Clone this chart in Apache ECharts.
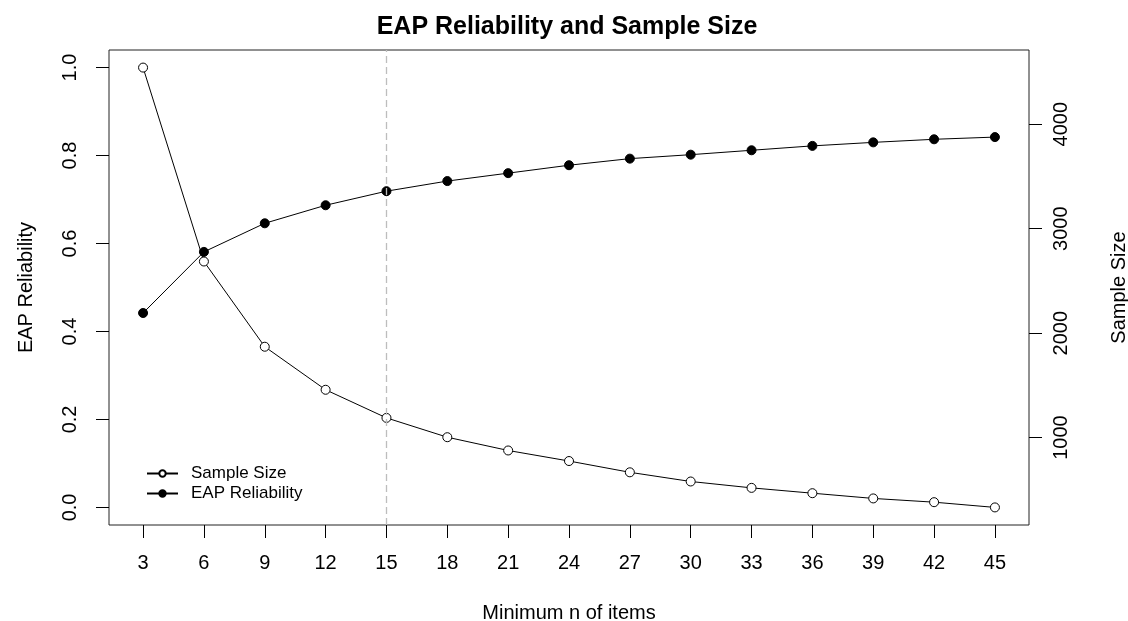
<!DOCTYPE html>
<html>
<head>
<meta charset="utf-8">
<title>EAP Reliability and Sample Size</title>
<script src="https://cdn.jsdelivr.net/npm/echarts@6/dist/echarts.min.js"></script>
<style>
  html, body { margin: 0; padding: 0; background: #fff; }
  #chart { width: 1128px; height: 621px; }
</style>
</head>
<body>
<div id="chart"></div>
<script>
// Minimum number of items per condition
const minItems = [ 3, 6, 9, 12, 15, 18, 21, 24, 27, 30, 33, 36, 39, 42, 45 ];
// Sample size (right axis)
const sampleSize = [ 4542, 2686, 1870, 1458, 1189, 1004, 877, 776, 668, 580, 519, 468, 418, 382, 332 ];
// EAP reliability (left axis)
const eapReliability = [ 0.442, 0.581, 0.646, 0.687, 0.719, 0.742, 0.760, 0.778, 0.793, 0.802, 0.812, 0.822, 0.830, 0.837, 0.842 ];
const leftTicks = [ 0, 0.2, 0.4, 0.6, 0.8, 1.0 ];
const rightTicks = [ 1000, 2000, 3000, 4000 ];
const cutoff = 15;

const FONT = 'Liberation Sans, Arial, sans-serif';

// R style padding: 4% on each side of the data range
function pad( lo, hi ) {
  const d = ( hi - lo ) * 0.04;
  return [ lo - d, hi + d ];
}

const xRange = pad( Math.min( ...minItems ), Math.max( ...minItems ) );
const leftRange = pad( 0, 1 );
const rightRange = pad( Math.min( ...sampleSize ), Math.max( ...sampleSize ) );

const chart = echarts.init( document.getElementById( 'chart' ), null, { renderer: 'canvas' } );

const tickStyle = { show: true, inside: false, length: 13, lineStyle: { color: '#000', width: 1 } };
const labelFont = { fontSize: 20, color: '#000', fontFamily: FONT };

chart.setOption( {
  animation: false,
  backgroundColor: '#fff',
  textStyle: { fontFamily: FONT, color: '#000' },
  title: {
    text: 'EAP Reliability and Sample Size',
    left: 562,
    top: 10,
    textAlign: 'center',
    textStyle: { fontFamily: FONT, fontSize: 25, fontWeight: 'bold', color: '#000' }
  },
  legend: {
    orient: 'vertical',
    left: 146,
    top: 465,
    padding: 0,
    itemWidth: 31,
    itemHeight: 8,
    itemGap: 3,
    textStyle: { fontFamily: FONT, fontSize: 17, color: '#000', padding: [ 0, 0, 0, 8 ] },
    data: [ 'Sample Size', 'EAP Reliability' ]
  },
  grid: {
    left: 109, right: 99, top: 50, bottom: 96,
    outerBoundsMode: 'none',
    containLabel: false,
    show: true, borderColor: '#222', borderWidth: 1, backgroundColor: 'transparent'
  },
  xAxis: {
    type: 'value',
    position: 'bottom',
    min: xRange[0],
    max: xRange[1],
    name: 'Minimum n of items',
    nameLocation: 'middle',
    nameGap: 78,
    nameTextStyle: labelFont,
    axisLine: { show: false, onZero: false },
    splitLine: { show: false },
    axisTick: Object.assign( { customValues: minItems }, tickStyle ),
    axisLabel: Object.assign( { customValues: minItems, margin: 28 }, labelFont )
  },
  yAxis: [
    {
      type: 'value',
      position: 'left',
      min: leftRange[0],
      max: leftRange[1],
      name: 'EAP Reliability',
      nameLocation: 'middle',
      nameGap: 73,
      nameRotate: 90,
      nameTextStyle: labelFont,
      axisLine: { show: false, onZero: false },
      splitLine: { show: false },
      axisTick: Object.assign( { customValues: leftTicks }, tickStyle ),
      axisLabel: Object.assign( {
        customValues: leftTicks, rotate: 90, margin: 29,
        formatter: ( v ) => v.toFixed( 1 )
      }, labelFont )
    },
    {
      type: 'value',
      position: 'right',
      min: rightRange[0],
      max: rightRange[1],
      name: 'Sample Size',
      nameLocation: 'middle',
      nameGap: 80,
      nameRotate: 90,
      nameTextStyle: labelFont,
      axisLine: { show: false, onZero: false },
      splitLine: { show: false },
      axisTick: Object.assign( { customValues: rightTicks }, tickStyle ),
      axisLabel: Object.assign( {
        customValues: rightTicks, rotate: 90, margin: 22,
        formatter: ( v ) => String( v )
      }, labelFont )
    }
  ],
  series: [
    {
      name: 'Sample Size',
      type: 'line',
      yAxisIndex: 1,
      data: minItems.map( ( x, i ) => [ x, sampleSize[i] ] ),
      symbol: 'circle',
      symbolSize: 9,
      itemStyle: { color: '#fff', borderColor: '#000', borderWidth: 1 },
      lineStyle: { color: '#000', width: 1 },
      z: 3,
      markLine: {
        silent: true,
        symbol: 'none',
        label: { show: false },
        lineStyle: { color: '#bdbdbd', type: [ 7, 4 ], width: 1.3 },
        data: [ { xAxis: cutoff } ]
      }
    },
    {
      name: 'EAP Reliability',
      type: 'line',
      yAxisIndex: 0,
      data: minItems.map( ( x, i ) => [ x, eapReliability[i] ] ),
      symbol: 'circle',
      symbolSize: 9,
      itemStyle: { color: '#000', borderColor: '#000', borderWidth: 1 },
      lineStyle: { color: '#000', width: 1 },
      z: 4
    }
  ]
} );
</script>
</body>
</html>
